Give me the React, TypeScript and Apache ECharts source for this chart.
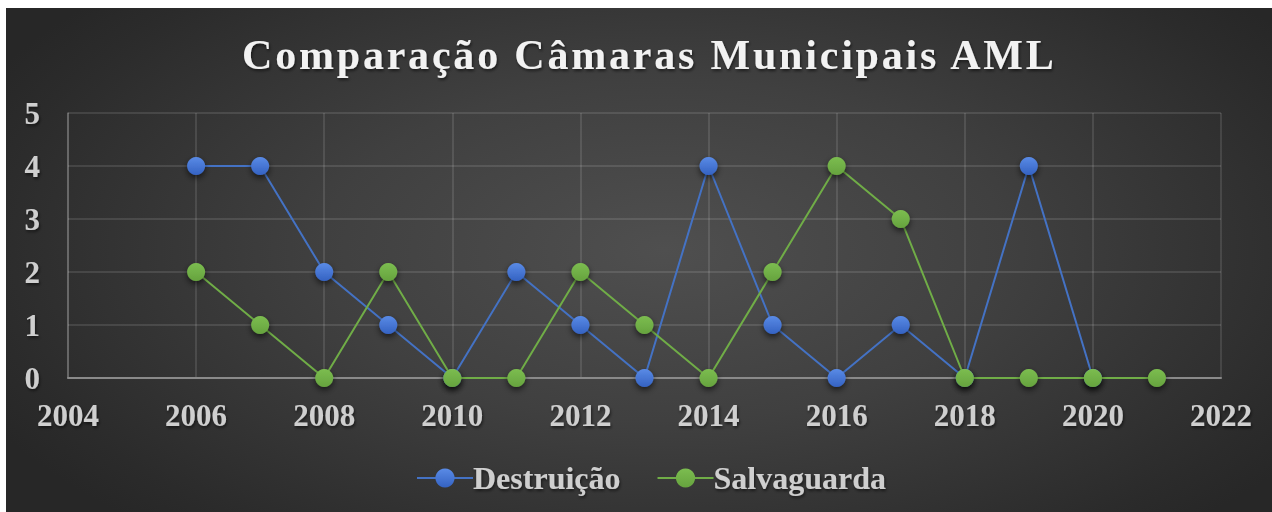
import React, { useEffect, useRef } from "react";
import * as echarts from "echarts";

const TITLE = "Comparação Câmaras Municipais AML";
const SERIES_NAMES = ["Destruição", "Salvaguarda"];
const YEARS_DESTRUICAO = [2006, 2007, 2008, 2009, 2010, 2011, 2012, 2013, 2014, 2015, 2016, 2017, 2018, 2019, 2020];
const VALUES_DESTRUICAO = [4, 4, 2, 1, 0, 2, 1, 0, 4, 1, 0, 1, 0, 4, 0];
const YEARS_SALVAGUARDA = [2006, 2007, 2008, 2009, 2010, 2011, 2012, 2013, 2014, 2015, 2016, 2017, 2018, 2019, 2020, 2021];
const VALUES_SALVAGUARDA = [2, 1, 0, 2, 0, 0, 2, 1, 0, 2, 4, 3, 0, 0, 0, 0];
const X_MIN = 2004;
const X_MAX = 2022;
const X_STEP = 2;
const Y_MIN = 0;
const Y_MAX = 5;
const Y_STEP = 1;

const FONT = "'Liberation Serif', 'Times New Roman', serif";
const LABEL_COLOR = "#cfcfcf";

function markerFill(top: string, bottom: string) {
  return new echarts.graphic.LinearGradient(0, 0, 0, 1, [
    { offset: 0, color: top },
    { offset: 1, color: bottom },
  ]);
}

export default function App() {
  const ref = useRef<HTMLDivElement>(null);
  useEffect(() => {
    if (!ref.current) return;
    const el = ref.current;
    const chart = echarts.init(el, undefined, { renderer: "svg" });
    const pairs = (xs: number[], ys: number[]) => xs.map((x, i) => [x, ys[i]]);
    const textShadow = {
      textShadowColor: "rgba(0,0,0,0.55)",
      textShadowBlur: 3,
      textShadowOffsetX: 1,
      textShadowOffsetY: 2,
    };
    const blueFill = markerFill("#5a8be6", "#3462c2");
    const greenFill = markerFill("#7cbd50", "#66a33e");
    chart.setOption({
      animation: false,
      backgroundColor: "transparent",
      graphic: [
        {
          type: "text",
          left: 236,
          top: 26,
          style: {
            text: TITLE,
            fontFamily: FONT,
            fontWeight: "bold",
            fontSize: 42,
            fill: "#f2f2f2",
            textShadowColor: "rgba(0,0,0,0.55)",
            textShadowBlur: 3,
            textShadowOffsetX: 1,
            textShadowOffsetY: 2,
          },
        },
      ],
      legend: {
        data: SERIES_NAMES,
        bottom: 13,
        left: 405,
        itemWidth: 56,
        itemHeight: 24,
        itemGap: 36,
        textStyle: {
          fontFamily: FONT,
          fontWeight: "bold",
          fontSize: 32,
          color: LABEL_COLOR,
          padding: [0, 0, 0, -5],
          ...textShadow,
        },
      },
      grid: { left: 62, right: 51, top: 105, bottom: 134, containLabel: false },
      xAxis: {
        type: "value",
        min: X_MIN,
        max: X_MAX,
        interval: X_STEP,
        axisLine: { show: true, lineStyle: { color: "#8a8a8a", width: 2 } },
        axisTick: { show: false },
        splitLine: { show: true, lineStyle: { color: "rgba(255,255,255,0.15)", width: 1.5 } },
        axisLabel: {
          margin: 22,
          fontFamily: FONT,
          fontWeight: "bold",
          fontSize: 31,
          color: LABEL_COLOR,
          formatter: (v: number) => String(v),
          ...textShadow,
        },
      },
      yAxis: {
        type: "value",
        min: Y_MIN,
        max: Y_MAX,
        interval: Y_STEP,
        axisLine: { show: true, lineStyle: { color: "rgba(255,255,255,0.25)", width: 1.5 } },
        axisTick: { show: false },
        splitLine: { show: true, lineStyle: { color: "rgba(255,255,255,0.15)", width: 1.5 } },
        axisLabel: {
          margin: 28,
          fontFamily: FONT,
          fontWeight: "bold",
          fontSize: 31,
          color: LABEL_COLOR,
          ...textShadow,
        },
      },
      series: [
        {
          name: SERIES_NAMES[0],
          type: "line",
          data: pairs(YEARS_DESTRUICAO, VALUES_DESTRUICAO),
          symbol: "circle",
          symbolSize: 18,
          lineStyle: { color: "#4472c4", width: 2 },
          itemStyle: {
            color: blueFill,
            borderWidth: 0,
            shadowColor: "rgba(0,0,0,0.6)",
            shadowBlur: 6,
            shadowOffsetY: 3,
          },
          z: 2,
        },
        {
          name: SERIES_NAMES[1],
          type: "line",
          data: pairs(YEARS_SALVAGUARDA, VALUES_SALVAGUARDA),
          symbol: "circle",
          symbolSize: 18,
          lineStyle: { color: "#70ad47", width: 2 },
          itemStyle: {
            color: greenFill,
            borderWidth: 0,
            shadowColor: "rgba(0,0,0,0.6)",
            shadowBlur: 6,
            shadowOffsetY: 3,
          },
          z: 3,
        },
      ],
    });
    const spaceTitle = () => {
      el.querySelectorAll("text").forEach((t) => {
        if (t.textContent === TITLE) {
          (t as SVGTextElement).style.letterSpacing = "2.8px";
        }
      });
    };
    spaceTitle();
    chart.on("finished", spaceTitle);
    const timer = setTimeout(spaceTitle, 50);
    return () => {
      clearTimeout(timer);
      chart.dispose();
    };
  }, []);

  return (
    <div
      style={{
        position: "absolute",
        left: 6,
        top: 8,
        width: 1266,
        height: 504,
        background:
          "radial-gradient(ellipse 60% 75% at 52% 48%, #4f4f4f 0%, #404040 45%, #2b2b2b 90%, #272727 100%)",
      }}
    >
      <div ref={ref} style={{ width: 1266, height: 504 }} />
    </div>
  );
}
